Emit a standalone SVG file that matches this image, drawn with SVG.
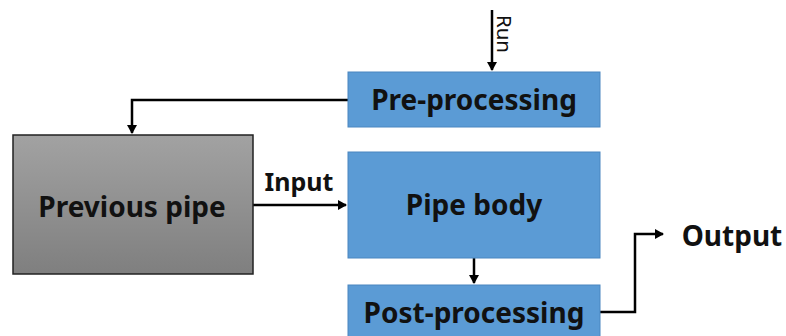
<svg xmlns="http://www.w3.org/2000/svg" width="786" height="336" viewBox="0 0 786 336">
<style>
.blue{fill:#5b9bd5;stroke:#4a86c0;stroke-width:1}
.lbl{font-family:"Noto Sans","Liberation Sans",sans-serif;font-weight:bold;font-size:28px;fill:#111;text-anchor:middle}
.conn{fill:none;stroke:#000;stroke-width:2.5}
</style>
<defs>
<linearGradient id="g" x1="0" y1="0" x2="0" y2="1">
<stop offset="0" stop-color="#a2a2a2"/>
<stop offset="1" stop-color="#7f7f7f"/>
</linearGradient>
<marker id="a" markerWidth="10" markerHeight="10" refX="8" refY="5" orient="auto" markerUnits="userSpaceOnUse">
<path d="M0,0 L9,5 L0,10 z" fill="#000"/>
</marker>
</defs>
<rect width="786" height="336" fill="#fff"/>
<g id="connectors">
<path class="conn" d="M492,10 V70" marker-end="url(#a)"/>
<path class="conn" d="M348,100 H132 V133" marker-end="url(#a)"/>
<path class="conn" d="M253,205 H346" marker-end="url(#a)"/>
<path class="conn" d="M474,258 V283" marker-end="url(#a)"/>
<path class="conn" d="M600,312 H635 V234 H663" marker-end="url(#a)"/>
<text x="502" y="15" transform="rotate(90 502 15)" font-family="'Noto Sans','Liberation Sans',sans-serif" font-size="19" fill="#111" dominant-baseline="middle" textLength="38" lengthAdjust="spacingAndGlyphs">Run</text>
<text x="299" y="191" class="lbl" style="font-size:25px">Input</text>
</g>
<g id="previous-pipe">
<rect x="13" y="135" width="240" height="139" fill="url(#g)" stroke="#222" stroke-width="1.5"/>
<text x="132" y="217" class="lbl">Previous pipe</text>
</g>
<g id="pre-processing">
<rect class="blue" x="348" y="72" width="252" height="55"/>
<text x="474" y="110" class="lbl">Pre-processing</text>
</g>
<g id="pipe-body">
<rect class="blue" x="348" y="152" width="252" height="106"/>
<text x="474" y="215" class="lbl">Pipe body</text>
</g>
<g id="post-processing">
<rect class="blue" x="348" y="285" width="252" height="60"/>
<text x="474" y="323" class="lbl">Post-processing</text>
</g>
<g id="output">
<text x="732" y="246" class="lbl">Output</text>
</g>
</svg>
